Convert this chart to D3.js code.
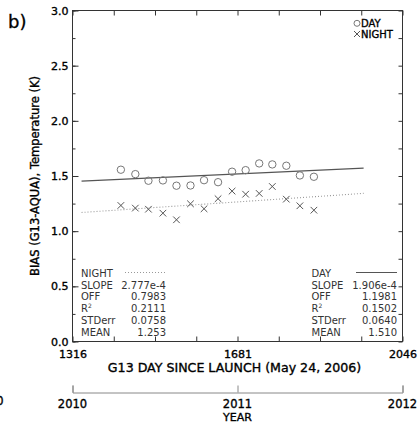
<!DOCTYPE html>
<html>
<head>
<meta charset="utf-8">
<script src="https://cdn.jsdelivr.net/npm/d3@7"></script>
<style>
  body { margin: 0; background: #fff; }
  text { font-family: "DejaVu Sans", sans-serif; }
  .heavy { stroke: #000; stroke-width: 0.35px; }
</style>
</head>
<body>
<div id="chart"></div>
<script>
// G13 day since launch for each monthly point
const days = [1423, 1455, 1484, 1516, 1546, 1577, 1607, 1638, 1669, 1699, 1729, 1758, 1789, 1819, 1850];
const dayBias = [1.557, 1.517, 1.457, 1.460, 1.412, 1.414, 1.462, 1.444, 1.539, 1.553, 1.614, 1.605, 1.593, 1.505, 1.493];
const nightBias = [1.233, 1.209, 1.199, 1.163, 1.103, 1.248, 1.203, 1.294, 1.363, 1.335, 1.342, 1.405, 1.290, 1.230, 1.190];

const xLabels = [1316, 1681, 2046];
const yLabels = [0.0, 0.5, 1.0, 1.5, 2.0, 2.5, 3.0];
const yearLabels = [2010, 2011, 2012];

// regression stats [offset, slope]
const dayFit = [1.1981, 1.906e-4];
const nightFit = [0.7983, 2.777e-4];
const fitDays = [1336, 1960];

const statNames = ["SLOPE", "OFF", "R", "STDerr", "MEAN"];
const nightStats = ["2.777e-4", "0.7983", "0.2111", "0.0758", "1.253"];
const dayStats = ["1.906e-4", "1.1981", "0.1502", "0.0640", "1.510"];

const W = 418, H = 422;
const svg = d3.select("#chart").append("svg")
  .attr("width", W).attr("height", H);

const x = d3.scaleLinear().domain([1316, 2046]).range([72.5, 402.5]);
const y = d3.scaleLinear().domain([0, 3]).range([341.5, 10.5]);
const yr = d3.scaleLinear().domain([2010, 2012]).range([72.5, 402.5]);

const axisColor = "#333";
const minorX = d3.range(1316, 2046.1, 91.25);
const minorY = d3.range(0, 3.01, 0.25);

// tidy an axis group: no domain line, tick colour, label style
function styleAxis(g, fontSize) {
  g.select(".domain").remove();
  g.selectAll("line").attr("stroke", axisColor);
  g.selectAll("text").attr("fill", "#000").attr("font-size", fontSize)
    .attr("class", "heavy")
    .style("font-family", "DejaVu Sans, sans-serif");
}

// left: minor ticks then labelled major ticks
svg.append("g").attr("transform", `translate(${x.range()[0]},0)`)
  .call(d3.axisLeft(y).tickValues(minorY).tickSize(-3).tickFormat(""))
  .call(g => styleAxis(g, 11));
svg.append("g").attr("transform", `translate(${x.range()[0]},0)`)
  .call(d3.axisLeft(y).tickValues(yLabels).tickSize(-6).tickPadding(4).tickFormat(d3.format(".1f")))
  .call(g => styleAxis(g, 11));

// right
svg.append("g").attr("transform", `translate(${x.range()[1]},0)`)
  .call(d3.axisRight(y).tickValues(minorY).tickSize(-4).tickFormat(""))
  .call(g => styleAxis(g, 11));

// top
svg.append("g").attr("transform", `translate(0,${y.range()[1]})`)
  .call(d3.axisTop(x).tickValues(minorX).tickSize(-5).tickFormat(""))
  .call(g => styleAxis(g, 11));

// bottom
svg.append("g").attr("transform", `translate(0,${y.range()[0]})`)
  .call(d3.axisBottom(x).tickValues(minorX).tickSize(-5).tickFormat(""))
  .call(g => styleAxis(g, 11));
svg.append("g").attr("transform", `translate(0,${y.range()[0]})`)
  .call(d3.axisBottom(x).tickValues(xLabels).tickSize(0).tickPadding(8.5).tickFormat(d3.format("d")))
  .call(g => styleAxis(g, 11));

// frame
svg.append("rect")
  .attr("x", x.range()[0]).attr("y", y.range()[1])
  .attr("width", x.range()[1] - x.range()[0])
  .attr("height", y.range()[0] - y.range()[1])
  .attr("fill", "none").attr("stroke", axisColor).attr("stroke-width", 1);

// fit lines
const fitLine = d3.line().x(d => x(d[0])).y(d => y(d[1]));
svg.append("path")
  .datum(fitDays.map(d => [d, dayFit[0] + dayFit[1] * d]))
  .attr("d", fitLine).attr("fill", "none")
  .attr("stroke", "#555").attr("stroke-width", 1.3);
svg.append("path")
  .datum(fitDays.map(d => [d, nightFit[0] + nightFit[1] * d]))
  .attr("d", fitLine).attr("fill", "none")
  .attr("stroke", "#999").attr("stroke-width", 1.1).attr("stroke-dasharray", "1,2");

// points
const crossPath = s => `M${-s},${-s}L${s},${s}M${-s},${s}L${s},${-s}`;
svg.append("g").selectAll("circle")
  .data(days.map((d, i) => [d, dayBias[i]]))
  .enter().append("circle")
  .attr("cx", d => x(d[0])).attr("cy", d => y(d[1]))
  .attr("r", 3.7).attr("fill", "none")
  .attr("stroke", "#777").attr("stroke-width", 1);
svg.append("g").selectAll("path")
  .data(days.map((d, i) => [d, nightBias[i]]))
  .enter().append("path")
  .attr("transform", d => `translate(${x(d[0])},${y(d[1])})`)
  .attr("d", crossPath(3.3))
  .attr("stroke", "#555").attr("stroke-width", 1);

// legend
const legend = svg.append("g").attr("transform", "translate(357,0)");
legend.append("circle").attr("cx", 0).attr("cy", 23.3).attr("r", 3)
  .attr("fill", "none").attr("stroke", "#777");
legend.append("path").attr("transform", "translate(0,34)")
  .attr("d", crossPath(3)).attr("stroke", "#555");
legend.append("text").attr("class", "heavy").attr("x", 4).attr("y", 27).attr("font-size", 10).text("DAY");
legend.append("text").attr("class", "heavy").attr("x", 4).attr("y", 38).attr("font-size", 10).text("NIGHT");

// stats boxes
function statsBlock(title, values, left, right, dash, lineColor) {
  const g = svg.append("g").attr("fill", "#333").attr("font-size", 10);
  const rowY = i => 276.7 + i * 11.86;
  g.append("text").attr("x", left).attr("y", rowY(0)).text(title);
  g.append("line")
    .attr("x1", right - 41).attr("x2", right)
    .attr("y1", 272.5).attr("y2", 272.5)
    .attr("stroke", lineColor).attr("stroke-width", 1.1)
    .attr("stroke-dasharray", dash);
  statNames.forEach((name, i) => {
    const t = g.append("text").attr("x", left).attr("y", rowY(i + 1)).text(name);
    if (name === "R") {
      t.append("tspan").attr("font-size", 6).attr("dy", -4).text("2");
    }
    g.append("text").attr("x", right).attr("y", rowY(i + 1))
      .attr("text-anchor", "end").text(values[i]);
  });
}
statsBlock("NIGHT", nightStats, 81, 166, "1,2", "#999");
statsBlock("DAY", dayStats, 311.5, 397, null, "#555");

// axis titles
svg.append("text").attr("class", "heavy")
  .attr("x", 234.5).attr("y", 372)
  .attr("text-anchor", "middle").attr("font-size", 12.6)
  .text("G13 DAY SINCE LAUNCH (May 24, 2006)");
svg.append("text").attr("class", "heavy")
  .attr("transform", "translate(39,176) rotate(-90)")
  .attr("text-anchor", "middle").attr("font-size", 11.5)
  .text("BIAS (G13-AQUA), Temperature (K)");

// panel label
svg.append("text").attr("class", "heavy").attr("x", 8).attr("y", 27.5)
  .attr("font-size", 18).text("b)");

// year axis below
const yearG = svg.append("g").attr("transform", "translate(0,392.5)")
  .call(d3.axisTop(yr).tickValues(yearLabels).tickSize(7).tickFormat(""));
yearG.select(".domain").attr("stroke", "#888");
yearG.selectAll("line").attr("stroke", "#888");
svg.append("g").selectAll("text")
  .data(yearLabels)
  .enter().append("text").attr("class", "heavy")
  .attr("x", d => yr(d)).attr("y", 407.5)
  .attr("text-anchor", "middle").attr("font-size", 11.5)
  .text(d => d);
svg.append("text").attr("class", "heavy").attr("x", yr(2011)).attr("y", 420.5)
  .attr("text-anchor", "middle").attr("font-size", 11).text("YEAR");

// clipped label from the neighbouring panel
svg.append("text").attr("class", "heavy").attr("x", 3.5).attr("y", 405)
  .attr("text-anchor", "end").attr("font-size", 11.5).text("2010");
</script>
</body>
</html>
